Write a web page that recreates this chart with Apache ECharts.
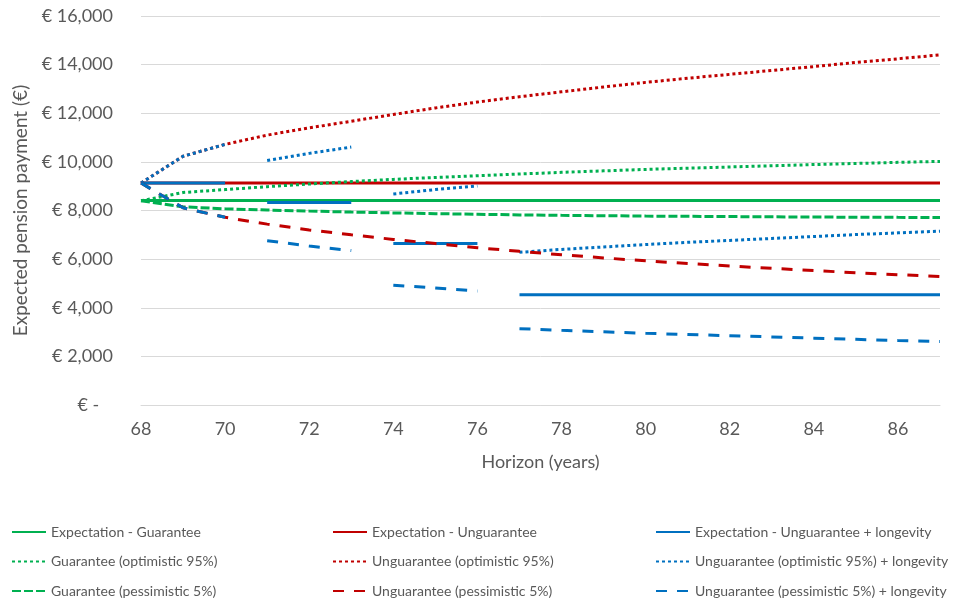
<!DOCTYPE html>
<html>
<head>
<meta charset="utf-8">
<script src="https://cdn.jsdelivr.net/npm/echarts@6/dist/echarts.min.js"></script>
<style>
html,body{margin:0;padding:0;background:#fff;}
#chart{width:965px;height:605px;}
</style>
</head>
<body>
<div id="chart"></div>
<script>
// ---- Data ----
var years = [68,69,70,71,72,73,74,75,76,77,78,79,80,81,82,83,84,85,86,87];
var yTicks = [0,2000,4000,6000,8000,10000,12000,14000,16000];

var expGuarantee   = [8410,8410,8410,8410,8410,8410,8410,8410,8410,8410,8410,8410,8410,8410,8410,8410,8410,8410,8410,8410];
var expUnguarantee = [9130,9130,9130,9130,9130,9130,9130,9130,9130,9130,9130,9130,9130,9130,9130,9130,9130,9130,9130,9130];
var expLongevity   = [9130,9130,9130,8330,8330,8330,6640,6640,6640,4530,4530,4530,4530,4530,4530,4530,4530,4530,4530,4530];

var optGuarantee   = [8400,8740,8860,8980,9090,9190,9280,9360,9430,9500,9570,9630,9690,9740,9790,9840,9890,9935,9980,10020];
var optUnguarantee = [9130,10230,10720,11100,11400,11670,11950,12220,12460,12680,12880,13080,13270,13440,13600,13760,13920,14090,14240,14400];
var optLongevity   = [9130,10230,10720,10060,10350,10610,8680,8860,9010,6280,6400,6500,6600,6690,6770,6850,6930,7010,7080,7150];

var pessGuarantee   = [8400,8150,8070,8020,7975,7935,7900,7870,7845,7820,7800,7785,7770,7760,7750,7740,7730,7725,7718,7713];
var pessUnguarantee = [9130,8110,7720,7440,7200,7000,6810,6640,6470,6320,6180,6050,5930,5820,5720,5620,5530,5440,5360,5284];
var pessLongevity   = [9130,8110,7720,6760,6540,6350,4930,4810,4690,3140,3070,3010,2950,2900,2850,2800,2750,2700,2650,2610];

// longevity series are drawn as separate pieces (year ranges)
var longevitySegments = [[68,70],[71,73],[74,76],[77,87]];

var names = [
  'Expectation - Guarantee', 'Expectation - Unguarantee', 'Expectation - Unguarantee + longevity',
  'Guarantee (optimistic 95%)', 'Unguarantee (optimistic 95%)', 'Unguarantee (optimistic 95%) + longevity',
  'Guarantee (pessimistic 5%)', 'Unguarantee (pessimistic 5%)', 'Unguarantee (pessimistic 5%) + longevity'
];

// ---- Styles ----
var GREEN = '#00B050', RED = '#C00000', BLUE = '#0070C0';
var FONT = 'Lato';
var TXT = '#595959';

function mk(name, data, color, dash) {
  return {
    name: name, type: 'line', data: data, symbol: 'none', showSymbol: false,
    smooth: false, animation: false, connectNulls: false,
    lineStyle: { color: color, width: 3, type: dash, cap: 'butt' },
    itemStyle: { color: color },
    emphasis: { disabled: true }
  };
}
function segs(name, data, color, dash) {
  return longevitySegments.map(function (s) {
    return mk(name, data.map(function (v, i) {
      return (years[i] >= s[0] && years[i] <= s[1]) ? v : null;
    }), color, dash);
  });
}

var DOT = [3, 3], SYSDASH = [9, 3], DASH = [11, 10];

var series = [].concat(
  [mk(names[0], expGuarantee, GREEN, 'solid')],
  [mk(names[1], expUnguarantee, RED, 'solid')],
  segs(names[2], expLongevity, BLUE, 'solid'),
  [mk(names[3], optGuarantee, GREEN, DOT)],
  [mk(names[4], optUnguarantee, RED, DOT)],
  segs(names[5], optLongevity, BLUE, DOT),
  [mk(names[6], pessGuarantee, GREEN, SYSDASH)],
  [mk(names[7], pessUnguarantee, RED, DASH)],
  segs(names[8], pessLongevity, BLUE, DASH)
);

function legendCol(idx, left) {
  return {
    data: [names[idx], names[idx + 3], names[idx + 6]],
    orient: 'vertical', left: left, top: 525, height: 100, padding: 0,
    itemWidth: 34, itemHeight: 14, itemGap: 15.5,
    selectedMode: false,
    itemStyle: { opacity: 0, color: 'rgba(0,0,0,0)', borderWidth: 0 },
    textStyle: { fontFamily: FONT, fontSize: 14, color: TXT }
  };
}

var chart = echarts.init(document.getElementById('chart'), null, { renderer: 'canvas' });
chart.setOption({
  animation: false,
  backgroundColor: '#fff',
  textStyle: { fontFamily: FONT },
  grid: { left: 141, right: 25, top: 16, bottom: 200, containLabel: false },
  legend: [legendCol(0, 11), legendCol(1, 332), legendCol(2, 655)],
  xAxis: {
    type: 'category', data: years.map(String), boundaryGap: false,
    name: 'Horizon (years)', nameLocation: 'middle', nameGap: 48,
    nameTextStyle: { fontFamily: FONT, fontSize: 18, color: TXT },
    axisLine: { show: true, lineStyle: { color: '#D9D9D9', width: 1 } },
    axisTick: { show: false },
    axisLabel: { interval: 1, margin: 15, fontFamily: FONT, fontSize: 18, color: TXT },
    splitLine: { show: false }
  },
  yAxis: {
    type: 'value', min: yTicks[0], max: yTicks[yTicks.length - 1], interval: 2000,
    name: 'Expected pension payment (€)', nameLocation: 'middle', nameGap: 111,
    nameTextStyle: { fontFamily: FONT, fontSize: 19, color: TXT },
    axisLine: { show: false }, axisTick: { show: false },
    axisLabel: {
      margin: 28, fontFamily: FONT, fontSize: 18, color: TXT,
      formatter: function (v) {
        if (v === 0) return '€ -   ';
        return '€ ' + v.toLocaleString('en-US');
      }
    },
    splitLine: { show: true, lineStyle: { color: '#D9D9D9', width: 1 } }
  },
  series: series
});
</script>
</body>
</html>
